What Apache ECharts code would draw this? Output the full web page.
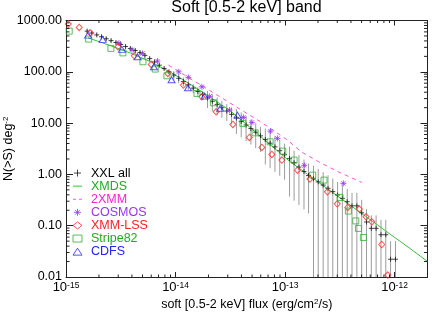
<!DOCTYPE html>
<html><head><meta charset="utf-8">
<script src="https://cdn.jsdelivr.net/npm/echarts@6/dist/echarts.min.js"></script>
<style>html,body{margin:0;padding:0;background:#fff}#c{width:447px;height:319px}</style>
</head><body><div id="c"></div>
<script>
// ---- axis ticks / labels ----
const xTickValues = [1e-15, 1e-14, 1e-13, 1e-12];
const xTickExponents = ['-15', '-14', '-13', '-12'];
const yTickValues = [0.01, 0.1, 1, 10, 100, 1000];
const yTickLabels = ['0.01', '0.10', '1.00', '10.00', '100.00', '1000.00'];
const minorMultipliers = [2, 3, 4, 5, 6, 7, 8, 9];
const xDecades = [1e-15, 1e-14, 1e-13, 1e-12];
const yDecades = [0.01, 0.1, 1, 10, 100];

// ---- XXL all (binned cumulative counts with error bars) ----
const xxlFlux = [1.56e-15,1.72e-15,1.91e-15,2.11e-15,2.33e-15,2.58e-15,2.86e-15,3.16e-15,3.50e-15,3.87e-15,4.29e-15,4.74e-15,5.25e-15,5.81e-15,6.43e-15,7.11e-15,7.87e-15,8.71e-15,9.64e-15,
1.07e-14,1.18e-14,1.31e-14,1.45e-14,1.60e-14,1.77e-14,1.96e-14,2.17e-14,2.40e-14,2.65e-14,2.94e-14,3.25e-14,3.60e-14,3.98e-14,4.41e-14,4.88e-14,5.40e-14,5.97e-14,6.61e-14,7.31e-14,8.09e-14,8.95e-14,9.91e-14,
1.10e-13,1.21e-13,1.34e-13,1.49e-13,1.64e-13,1.82e-13,2.01e-13,2.23e-13,2.47e-13,2.73e-13,3.02e-13,3.34e-13,3.70e-13,4.09e-13,4.53e-13,5.01e-13,5.55e-13,6.14e-13,6.79e-13,7.52e-13,8.32e-13,9.20e-13,1.02e-12];
const xxlN = [621,570,524,481,441,405,372,341,311,284,260,237,209,181,156,134.5,116,100,86.4,
74.6,64.4,55.6,48.0,41.4,35.8,30.9,26.7,23.1,19.9,17.2,14.8,12.6,10.8,9.19,7.83,6.65,5.64,4.78,4.06,3.44,2.90,2.42,
2.03,1.69,1.39,1.14,0.950,0.824,0.714,0.619,0.536,0.461,0.397,0.341,0.293,0.244,0.244,0.178,0.118,0.0889,0.0889,0.0667,0.0667,0.0222,0.0222];
const xxlLo = [581,533,490,450,412,379,348,319,291,266,243,222,195,169,146,126,108,93.5,
69.0,59.6,51.5,44.4,38.4,33.1,28.6,
19.7,17.0,14.7,12.7,11.0,9.44,
6.15,5.27,4.48,3.82,3.25,2.75,
1.56,1.32,1.12,0.945,0.789,
0.369,0.308,0.253,0.207,0.173,
0.01,0.01,0.01,0.01,0.01,0.01,0.01,0.01,0.01,0.01,0.01,0.01,0.01,0.01,0.01,0.01,0.01,0.01];
const xxlHi = [664,610,561,515,472,433,398,365,333,304,278,254,224,194,167,144,124,107,
103,89.3,77.1,66.6,57.5,49.6,42.9,
42.3,36.6,31.6,27.2,23.5,20.3,
18.9,16.2,13.8,11.7,9.96,8.44,
7.83,6.65,5.64,4.75,3.97,
3.48,2.90,2.38,1.95,1.63,
1.48,1.28,1.11,0.961,0.826,0.711,0.611,0.525,0.437,0.437,0.319,0.211,0.159,0.159,0.13,0.13,0.05,0.05];

// ---- XMDS model line ----
const xmdsFlux = [1.59e-15,2.54e-15,3.87e-15,5.88e-15,8.94e-15,1.36e-14,2.07e-14,3.15e-14,4.80e-14,7.31e-14,1.11e-13,1.69e-13,2.58e-13,3.93e-13,5.98e-13,9.10e-13,1.39e-12,2.0e-12];
const xmdsN = [460,324,232,158,98.6,57.5,32.1,17.5,8.17,3.81,1.78,0.927,0.483,0.252,0.132,0.0686,0.0358,0.0201];

// ---- 2XMM model line ----
const xmm2Flux = [8.63e-15,1.46e-14,3.05e-14,5.93e-14,1.04e-13,1.42e-13,2.09e-13,3.18e-13,5.03e-13];
const xmm2N = [135,67.4,25.7,10.7,4.76,2.72,1.70,1.08,0.698];

// ---- COSMOS ----
const cosmosFlux = [3.04e-15,4.0e-15,5.0e-15,6.85e-15,1.07e-14,1.31e-14,1.74e-14,2.05e-14,3.11e-14,4.17e-14,4.98e-14,7.36e-14,8.53e-14,1.50e-13,3.41e-13];
const cosmosN = [362,269,228,162,100,77.8,51,33.2,17.9,12.9,10.3,6.98,5.03,1.50,0.668];

// ---- XMM-LSS ----
const lssFlux = [1.05e-15,1.32e-15,1.66e-15,2.98e-15,4.2e-15,6.0e-15,8.5e-15,1.18e-14,1.74e-14,2.35e-14,3.34e-14,4.73e-14,6.14e-14,7.58e-14,9.35e-14,1.30e-13,1.69e-13,2.44e-13,3.0e-13,3.74e-13,4.77e-13,5.5e-13,6.2e-13,7.64e-13,8.67e-13];
const lssN = [851,733,576,307,205,139,93,55,32.6,16.6,9.4,5.26,3.36,2.45,1.90,1.21,0.81,0.458,0.267,0.227,0.211,0.149,0.119,0.043,0.0109];

// ---- Stripe82 ----
const stripeFlux = [1.07e-15,1.61e-15,2.57e-15,3.31e-15,5.04e-15,6.53e-15,8.35e-15,1.57e-14,2.22e-14,4.12e-14,5.33e-14,7.31e-14,9.55e-14,1.21e-13,1.79e-13,2.27e-13,3.18e-13,3.79e-13,4.43e-13,4.68e-13,5.19e-13];
const stripeN = [621,434,286,234,157,113,83.6,37.9,24.9,9.86,6.47,4.32,2.84,1.90,0.968,0.774,0.356,0.193,0.124,0.0885,0.059];

// ---- CDFS ----
const cdfsFlux = [1.59e-15,2.16e-15,3.24e-15,4.5e-15,6.35e-15,9.2e-15,1.30e-14,1.84e-14,2.56e-14,3.68e-14];
const cdfsN = [519,428,274,196,125,70,49,33.6,19.4,14.3];

// ---------------------------------------------------------------
const F = '"Liberation Sans", Arial, Helvetica, sans-serif';
const X_MIN = 1e-15, X_MAX = 2e-12, Y_MIN = 0.01, Y_MAX = 1000;
const AX = '#222';

const C = {
  xxl: '#1a1a1a', xmds: '#3cbf3c', xmm2: '#ff55dd', cosmos: '#9933ff',
  lss: '#ff2a2a', stripe: '#33b033', cdfs: '#2a2aff', err: '#9c9c9c'
};
const SYM = {
  plus: 'path://M0,-5V5M-5,0H5',
  star: 'path://M0,-5V5M-5,0H5M-3.5,-3.5L3.5,3.5M-3.5,3.5L3.5,-3.5'
};

const xMinor = [];
xDecades.forEach(d => minorMultipliers.forEach(m => { const v = d * m; if (v < X_MAX * 0.999) xMinor.push(v); }));
const yMinor = [];
yDecades.forEach(d => minorMultipliers.forEach(m => yMinor.push(d * m)));

const zip = (a, b) => a.map((v, i) => [v, b[i]]);
const near = (a, b) => Math.abs(Math.log10(a) - Math.log10(b)) < 1e-6;

function xLabel(v) {
  const i = xTickValues.findIndex(t => near(t, v));
  return i < 0 ? '' : '{b|10}{e|' + xTickExponents[i] + '}';
}
function yLabel(v) {
  const i = yTickValues.findIndex(t => near(t, v));
  return i < 0 ? '' : yTickLabels[i];
}

const baseX = {
  type: 'log', logBase: 10, min: X_MIN, max: X_MAX, interval: 1,
  axisLine: { show: true, lineStyle: { color: AX, width: 1 } },
  axisTick: { show: true, inside: true, length: 5, lineStyle: { color: AX } },
  splitLine: { show: false }, minorTick: { show: false }
};
const baseY = {
  type: 'log', logBase: 10, min: Y_MIN, max: Y_MAX, interval: 1,
  axisLine: { show: true, lineStyle: { color: AX, width: 1 } },
  axisTick: { show: true, inside: true, length: 7, lineStyle: { color: AX } },
  splitLine: { show: false }, minorTick: { show: false }
};

const hollow = c => ({ color: 'rgba(0,0,0,0)', borderColor: c, borderWidth: 1 });
const noFill = { color: 'rgba(0,0,0,0)', borderWidth: 0 };

const option = {
  animation: false,
  backgroundColor: '#fff',
  title: {
    text: 'Soft [0.5-2 keV] band', left: 246.5, top: 0, textAlign: 'center', padding: 0,
    textStyle: { fontFamily: F, fontSize: 16, fontWeight: 'normal', color: '#000' }
  },
  grid: { left: 66, top: 20.5, right: 19.5, bottom: 42, containLabel: false, outerBoundsMode: 'none' },
  xAxis: [
    Object.assign({}, baseX, {
      position: 'bottom',
      axisLabel: {
        show: true, margin: 4, formatter: xLabel,
        rich: {
          b: { fontFamily: F, fontSize: 13, color: '#000' },
          e: { fontFamily: F, fontSize: 8.5, color: '#000', verticalAlign: 'top' }
        }
      },
      name: 'soft [0.5-2 keV] flux (erg/cm{s|2}/s)', nameLocation: 'middle', nameGap: 21,
      nameMoveOverlap: false,
      nameTextStyle: {
        fontFamily: F, fontSize: 12.5, color: '#000',
        rich: { s: { fontFamily: F, fontSize: 8, color: '#000', verticalAlign: 'top' } }
      }
    }),
    Object.assign({}, baseX, { position: 'top', axisLabel: { show: false } })
  ],
  yAxis: [
    Object.assign({}, baseY, {
      position: 'left',
      axisLabel: { show: true, margin: 4, formatter: yLabel, fontFamily: F, fontSize: 12.5, color: '#000' },
      name: 'N(>S) deg{s|-2}', nameLocation: 'middle', nameRotate: 90, nameGap: 51,
      nameMoveOverlap: false,
      nameTextStyle: {
        fontFamily: F, fontSize: 12.5, color: '#000',
        rich: { s: { fontFamily: F, fontSize: 8, color: '#000', verticalAlign: 'top' } }
      }
    }),
    Object.assign({}, baseY, { position: 'right', axisLabel: { show: false } })
  ],
  legend: {
    orient: 'vertical', left: 72.5, top: 166.5, padding: 0, itemGap: 0,
    itemWidth: 9, itemHeight: 7, selectedMode: false, symbolKeepAspect: true,
    itemStyle: { borderWidth: 1 },
    textStyle: { fontFamily: F, fontSize: 12.5, lineHeight: 13.1, padding: [0, 0, 0, 4] },
    data: [
      { name: 'XXL all', icon: SYM.plus, itemStyle: { color: C.xxl, borderColor: C.xxl, borderWidth: 1 },
        textStyle: { color: '#000' } },
      { name: 'XMDS', itemStyle: noFill, lineStyle: { color: C.xmds, width: 1, type: 'solid' },
        textStyle: { color: '#22aa22' } },
      { name: '2XMM', itemStyle: noFill, lineStyle: { color: C.xmm2, width: 1, type: [3, 3] },
        textStyle: { color: '#ff22cc' } },
      { name: 'COSMOS', icon: SYM.star, itemStyle: { color: C.cosmos, borderColor: C.cosmos, borderWidth: 1 },
        textStyle: { color: '#9933ff' } },
      { name: 'XMM-LSS', icon: 'diamond', itemStyle: hollow(C.lss), textStyle: { color: '#ff2222' } },
      { name: 'Stripe82', icon: 'rect', itemStyle: hollow(C.stripe), textStyle: { color: '#22aa22' } },
      { name: 'CDFS', icon: 'triangle', itemStyle: hollow(C.cdfs), textStyle: { color: '#2222ff' } }
    ]
  },
  series: [
    { // minor ticks on x (bottom + top)
      type: 'custom', name: 'xminor', silent: true, z: 5,
      data: xMinor.map(v => [v, 1]), encode: { x: 0, y: 1 },
      renderItem: (p, api) => {
        const b = api.coord([api.value(0), Y_MIN]);
        const t = api.coord([api.value(0), Y_MAX]);
        const st = { stroke: AX, lineWidth: 1 };
        return { type: 'group', children: [
          { type: 'line', shape: { x1: b[0], y1: b[1], x2: b[0], y2: b[1] - 2.5 }, style: st },
          { type: 'line', shape: { x1: t[0], y1: t[1], x2: t[0], y2: t[1] + 2.5 }, style: st }
        ] };
      }
    },
    { // minor ticks on y (left + right)
      type: 'custom', name: 'yminor', silent: true, z: 5,
      data: yMinor.map(v => [1e-14, v]), encode: { x: 0, y: 1 },
      renderItem: (p, api) => {
        const l = api.coord([X_MIN, api.value(1)]);
        const r = api.coord([X_MAX, api.value(1)]);
        const st = { stroke: AX, lineWidth: 1 };
        return { type: 'group', children: [
          { type: 'line', shape: { x1: l[0], y1: l[1], x2: l[0] + 3.5, y2: l[1] }, style: st },
          { type: 'line', shape: { x1: r[0], y1: r[1], x2: r[0] - 3.5, y2: r[1] }, style: st }
        ] };
      }
    },
    { // XXL error bars
      type: 'custom', name: 'xxlErr', silent: true, z: 1,
      data: xxlFlux.map((s, i) => [s, xxlLo[i], xxlHi[i]]), encode: { x: 0, y: [1, 2] },
      renderItem: (p, api) => {
        const a = api.coord([api.value(0), api.value(1)]);
        const b = api.coord([api.value(0), api.value(2)]);
        return { type: 'line', shape: { x1: a[0], y1: a[1], x2: b[0], y2: b[1] },
                 style: { stroke: C.err, lineWidth: 1 } };
      }
    },
    { name: 'XMDS', type: 'line', data: zip(xmdsFlux, xmdsN), symbol: 'none', z: 2,
      lineStyle: { color: C.xmds, width: 1 }, itemStyle: { color: C.xmds } },
    { name: '2XMM', type: 'line', data: zip(xmm2Flux, xmm2N), symbol: 'none', z: 2,
      lineStyle: { color: C.xmm2, width: 1, type: [4, 4] }, itemStyle: { color: C.xmm2 } },
    { name: 'XXL all', type: 'scatter', data: zip(xxlFlux, xxlN), z: 3,
      symbol: SYM.plus, symbolSize: 5,
      itemStyle: { color: C.xxl, borderColor: C.xxl, borderWidth: 1 } },
    { name: 'COSMOS', type: 'scatter', data: zip(cosmosFlux, cosmosN), z: 4,
      symbol: SYM.star, symbolSize: 6,
      itemStyle: { color: C.cosmos, borderColor: C.cosmos, borderWidth: 1 } },
    { name: 'XMM-LSS', type: 'scatter', data: zip(lssFlux, lssN), z: 4,
      symbol: 'diamond', symbolSize: [6, 6.5], itemStyle: hollow(C.lss) },
    { name: 'Stripe82', type: 'scatter', data: zip(stripeFlux, stripeN), z: 4,
      symbol: 'rect', symbolSize: 6, itemStyle: hollow(C.stripe) },
    { name: 'CDFS', type: 'scatter', data: zip(cdfsFlux, cdfsN), z: 4,
      symbol: 'triangle', symbolSize: [7, 6], itemStyle: hollow(C.cdfs) }
  ]
};

const chart = echarts.init(document.getElementById('c'), null, { renderer: 'canvas' });
chart.setOption(option);
</script>
</body></html>
